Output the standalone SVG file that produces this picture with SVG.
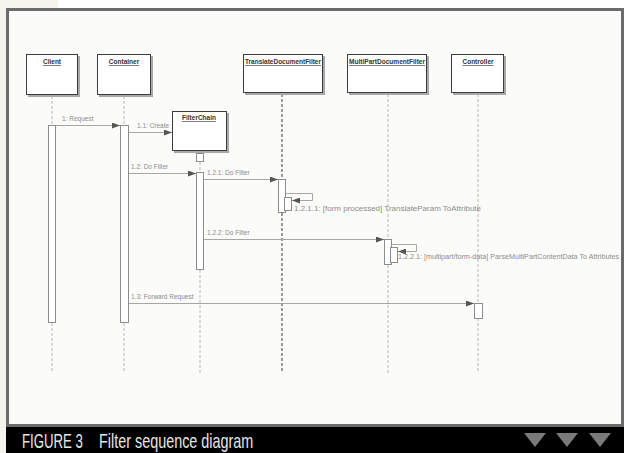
<svg xmlns="http://www.w3.org/2000/svg" width="624" height="453" viewBox="0 0 624 453">
<defs>
<style>
.shadow{fill:#a8a8a8}
.box{fill:#fff;stroke:#3c3c3c;stroke-width:1}
.life{stroke:#b8b8b8;stroke-width:1;stroke-dasharray:3 2;fill:none}
.lifed{stroke:#5a5a5a;stroke-width:1.2;stroke-dasharray:3 2;fill:none}
.act{fill:#fff;stroke:#8c8c8c;stroke-width:1}
.msg{stroke:#a6a6a6;stroke-width:1;fill:none;marker-end:url(#ah)}
.lbl{font-family:"Liberation Sans",Arial,sans-serif;font-size:6.5px;fill:#8c8c8c}
.head{font-family:"Liberation Sans",Arial,sans-serif;font-size:6.5px;font-weight:bold;fill:#333;text-anchor:middle;text-decoration:underline}
.cap{font-family:"Liberation Sans",Arial,sans-serif;font-size:20px;fill:#e6e6e6}
.tri{fill:#7a7a7a}
</style>
<marker id="ah" markerUnits="userSpaceOnUse" markerWidth="8" markerHeight="6" refX="8" refY="3" orient="auto">
<path d="M0,0 L8,3 L0,6 z" fill="#555"/>
</marker>
</defs>
<rect x="0" y="0" width="624" height="453" fill="#fff"/>
<rect x="0" y="0" width="58" height="9" fill="#f5f4ec"/>
<rect x="0" y="0" width="6" height="453" fill="#f5f4ec"/>
<rect x="7.5" y="9.5" width="615" height="416" fill="#fbfbf9" stroke="#6b6b6b" stroke-width="3"/>

<g id="connectors">
<line class="life" x1="52" y1="96" x2="52" y2="125"/>
<line class="life" x1="52" y1="323" x2="52" y2="373"/>
<line class="life" x1="124" y1="96" x2="124" y2="125"/>
<line class="life" x1="124" y1="323" x2="124" y2="373"/>
<line class="life" x1="200" y1="162" x2="200" y2="172"/>
<line class="life" x1="200" y1="270" x2="200" y2="373"/>
<line class="lifed" x1="282" y1="94" x2="282" y2="179"/>
<line class="lifed" x1="282" y1="213" x2="282" y2="373"/>
<line class="life" x1="388" y1="94" x2="388" y2="239"/>
<line class="life" x1="388" y1="265" x2="388" y2="373"/>
<line class="life" x1="478" y1="94" x2="478" y2="303"/>
<line class="life" x1="478" y1="318" x2="478" y2="373"/>

<rect class="act" x="48.5" y="125.5" width="7" height="197"/>
<rect class="act" x="120.5" y="125.5" width="8" height="197"/>
<rect class="act" x="196.5" y="153.5" width="7" height="8"/>
<rect class="act" x="196.5" y="172.5" width="7" height="97"/>
<rect class="act" x="278.5" y="179.5" width="7" height="33"/>
<rect class="act" x="284.5" y="197.5" width="7" height="13"/>
<rect class="act" x="384.5" y="239.5" width="7" height="25"/>
<rect class="act" x="390.5" y="247.5" width="7" height="15"/>
<rect class="act" x="474.5" y="303.5" width="8" height="15"/>

<line class="msg" x1="56" y1="125.5" x2="120" y2="125.5"/>
<text class="lbl" x="62" y="121">1: Request</text>
<line class="msg" x1="129" y1="132.5" x2="172" y2="132.5"/>
<text class="lbl" x="137" y="128">1.1: Create</text>
<line class="msg" x1="129" y1="173.5" x2="196" y2="173.5"/>
<text class="lbl" x="131" y="169">1.2: Do Filter</text>
<line class="msg" x1="204" y1="179.5" x2="278" y2="179.5"/>
<text class="lbl" x="207" y="175">1.2.1: Do Filter</text>
<polyline class="msg" points="286,193.5 312.5,193.5 312.5,200.5 292,200.5"/>
<text class="lbl" x="294" y="211" textLength="187" lengthAdjust="spacingAndGlyphs">1.2.1.1: [form processed] TranslateParam ToAttribute</text>
<line class="msg" x1="204" y1="239.5" x2="384" y2="239.5"/>
<text class="lbl" x="207" y="235">1.2.2: Do Filter</text>
<polyline class="msg" points="392,244.5 416.5,244.5 416.5,251.5 398,251.5"/>
<text class="lbl" x="398" y="259" textLength="221" lengthAdjust="spacingAndGlyphs">1.2.2.1: [multipart/form-data] ParseMultiPartContentData To Attributes</text>
<line class="msg" x1="129" y1="303.5" x2="474" y2="303.5"/>
<text class="lbl" x="131" y="299">1.3: Forward Request</text>
</g>

<g id="client">
<rect class="shadow" x="28" y="56" width="52" height="41"/>
<rect class="box" x="26.5" y="54.5" width="51" height="40"/>
<text class="head" x="52" y="64">Client</text>
</g>
<g id="container">
<rect class="shadow" x="99" y="56" width="54" height="41"/>
<rect class="box" x="97.5" y="54.5" width="53" height="40"/>
<text class="head" x="124" y="64">Container</text>
</g>
<g id="filterchain">
<rect class="shadow" x="174" y="113" width="55" height="40"/>
<rect class="box" x="172.5" y="111.5" width="54" height="39"/>
<text class="head" x="199" y="120">FilterChain</text>
</g>
<g id="translatefilter">
<rect class="shadow" x="245" y="56" width="80" height="39"/>
<rect class="box" x="243.5" y="54.5" width="79" height="38"/>
<text class="head" x="283" y="64" textLength="76" lengthAdjust="spacingAndGlyphs">TranslateDocumentFilter</text>
</g>
<g id="multipartfilter">
<rect class="shadow" x="349" y="56" width="80" height="39"/>
<rect class="box" x="347.5" y="54.5" width="79" height="38"/>
<text class="head" x="387" y="64" textLength="76" lengthAdjust="spacingAndGlyphs">MultiPartDocumentFilter</text>
</g>
<g id="controller">
<rect class="shadow" x="453" y="56" width="53" height="39"/>
<rect class="box" x="451.5" y="54.5" width="52" height="38"/>
<text class="head" x="478" y="64">Controller</text>
</g>

<g id="caption">
<rect x="6" y="427" width="618" height="26" fill="#000"/>
<text class="cap" transform="translate(22,448) scale(0.66,1)" x="0" y="0">FIGURE 3</text>
<text class="cap" transform="translate(99,448) scale(0.72,1)" x="0" y="0">Filter sequence diagram</text>
<polygon class="tri" points="524,433 546,433 535,447"/>
<polygon class="tri" points="556,433 578,433 567,447"/>
<polygon class="tri" points="589,433 611,433 600,447"/>
</g>
</svg>
